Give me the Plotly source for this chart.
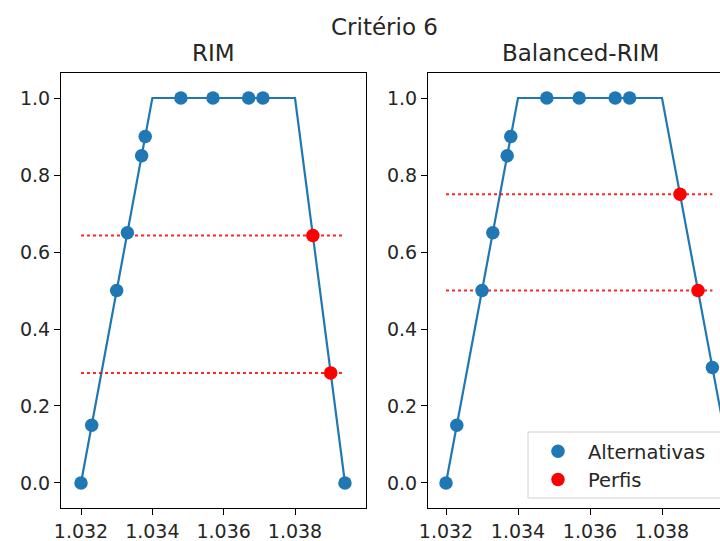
import plotly.graph_objects as go

# ---- data ----
alt_x = [1.032, 1.0323, 1.033, 1.0333, 1.0337, 1.0338, 1.0348, 1.0357, 1.0367, 1.0371, 1.0394]
rim_alt_y = [0.0, 0.15, 0.5, 0.65, 0.85, 0.9, 1.0, 1.0, 1.0, 1.0, 0.0]
brim_alt_y = [0.0, 0.15, 0.5, 0.65, 0.85, 0.9, 1.0, 1.0, 1.0, 1.0, 0.3]

rim_fn_x = [1.032, 1.034, 1.038, 1.0394]
rim_fn_y = [0.0, 1.0, 1.0, 0.0]
brim_fn_x = [1.032, 1.034, 1.038, 1.040]
brim_fn_y = [0.0, 1.0, 1.0, 0.0]

prof_x = [1.0385, 1.039]
rim_prof_y = [0.643, 0.286]
brim_prof_y = [0.75, 0.5]

x_ticks = [1.032, 1.034, 1.036, 1.038]
y_ticks = [0.0, 0.2, 0.4, 0.6, 0.8, 1.0]

suptitle = "Critério 6"
titles = ["RIM", "Balanced-RIM"]

BLUE = "#1f77b4"
RED = "#ff0000"
TXT = "#262626"
FONT = "DejaVu Sans"
W, H = 720, 541

fig = go.Figure()

panels = [
    ("x", "y", rim_fn_x, rim_fn_y, rim_alt_y, rim_prof_y),
    ("x2", "y2", brim_fn_x, brim_fn_y, brim_alt_y, brim_prof_y),
]
for i, (xa, ya, fx, fy, ay, py) in enumerate(panels):
    fig.add_trace(go.Scatter(x=fx, y=fy, mode="lines", line=dict(color=BLUE, width=2.2),
                             xaxis=xa, yaxis=ya, showlegend=False, hoverinfo="skip"))
    for yv in py:
        fig.add_trace(go.Scatter(x=[min(alt_x), max(alt_x)], y=[yv, yv], mode="lines",
                                 line=dict(color="rgba(255,0,0,0.85)", width=2, dash="dot"),
                                 xaxis=xa, yaxis=ya, showlegend=False, hoverinfo="skip"))
    fig.add_trace(go.Scatter(x=alt_x, y=ay, mode="markers", name="Alternativas",
                             marker=dict(color=BLUE, size=13.5, line=dict(width=0)),
                             xaxis=xa, yaxis=ya, showlegend=(i == 1)))
    fig.add_trace(go.Scatter(x=prof_x, y=py, mode="markers", name="Perfis",
                             marker=dict(color=RED, size=13.5, line=dict(width=0)),
                             xaxis=xa, yaxis=ya, showlegend=(i == 1)))

ydom = [1 - 508 / H, 1 - 73 / H]
common_x = dict(tickvals=x_ticks, tickformat=".3f", ticks="outside", ticklen=6, tickwidth=1,
                tickcolor="#000", showline=True, linecolor="#000", linewidth=1.2, mirror=True,
                showgrid=False, zeroline=False, automargin=False,
                tickfont=dict(family=FONT, size=19, color=TXT))
common_y = dict(tickvals=y_ticks, tickformat=".1f", ticks="outside", ticklen=6, tickwidth=1,
                tickcolor="#000", showline=True, linecolor="#000", linewidth=1.2,
                showgrid=False, zeroline=False, automargin=False,
                tickfont=dict(family=FONT, size=19, color=TXT),
                range=[-0.065, 1.065], domain=ydom)

fig.update_layout(
    width=W, height=H, margin=dict(l=0, r=0, t=0, b=0, autoexpand=False),
    plot_bgcolor="white", paper_bgcolor="white",
    xaxis=dict(common_x, domain=[61 / W, 366 / W], range=[1.031439, 1.039990], anchor="y"),
    yaxis=dict(common_y, anchor="x", mirror=True),
    xaxis2=dict(common_x, domain=[428 / W, 1.0], range=[1.0315, 1.039611], anchor="y2"),
    yaxis2=dict(common_y, anchor="x2", mirror=False),
    legend=dict(x=528 / W, y=1 - 432 / H, xanchor="left", yanchor="top",
                bgcolor="rgba(0,0,0,0)", borderwidth=0,
                font=dict(family=FONT, size=19.5, color=TXT), itemwidth=50),
    font=dict(family=FONT, color=TXT),
    shapes=[
        dict(type="rect", xref="paper", yref="paper", layer="above",
             x0=528 / W, x1=1.03, y0=1 - 498 / H, y1=1 - 432 / H,
             line=dict(color="#d0d0d0", width=1), fillcolor="rgba(255,255,255,0.85)"),
    ],
    annotations=[
        dict(text=suptitle, x=384 / W, y=1 - 27 / H, xref="paper", yref="paper",
             xanchor="center", yanchor="middle", showarrow=False,
             font=dict(family=FONT, size=23, color=TXT)),
        dict(text=titles[0], x=213.5 / W, y=1 - 53 / H, xref="paper", yref="paper",
             xanchor="center", yanchor="middle", showarrow=False,
             font=dict(family=FONT, size=23, color=TXT)),
        dict(text=titles[1], x=580 / W, y=1 - 53 / H, xref="paper", yref="paper",
             xanchor="center", yanchor="middle", showarrow=False,
             font=dict(family=FONT, size=23, color=TXT)),
    ],
)

fig.write_html("out.html")
